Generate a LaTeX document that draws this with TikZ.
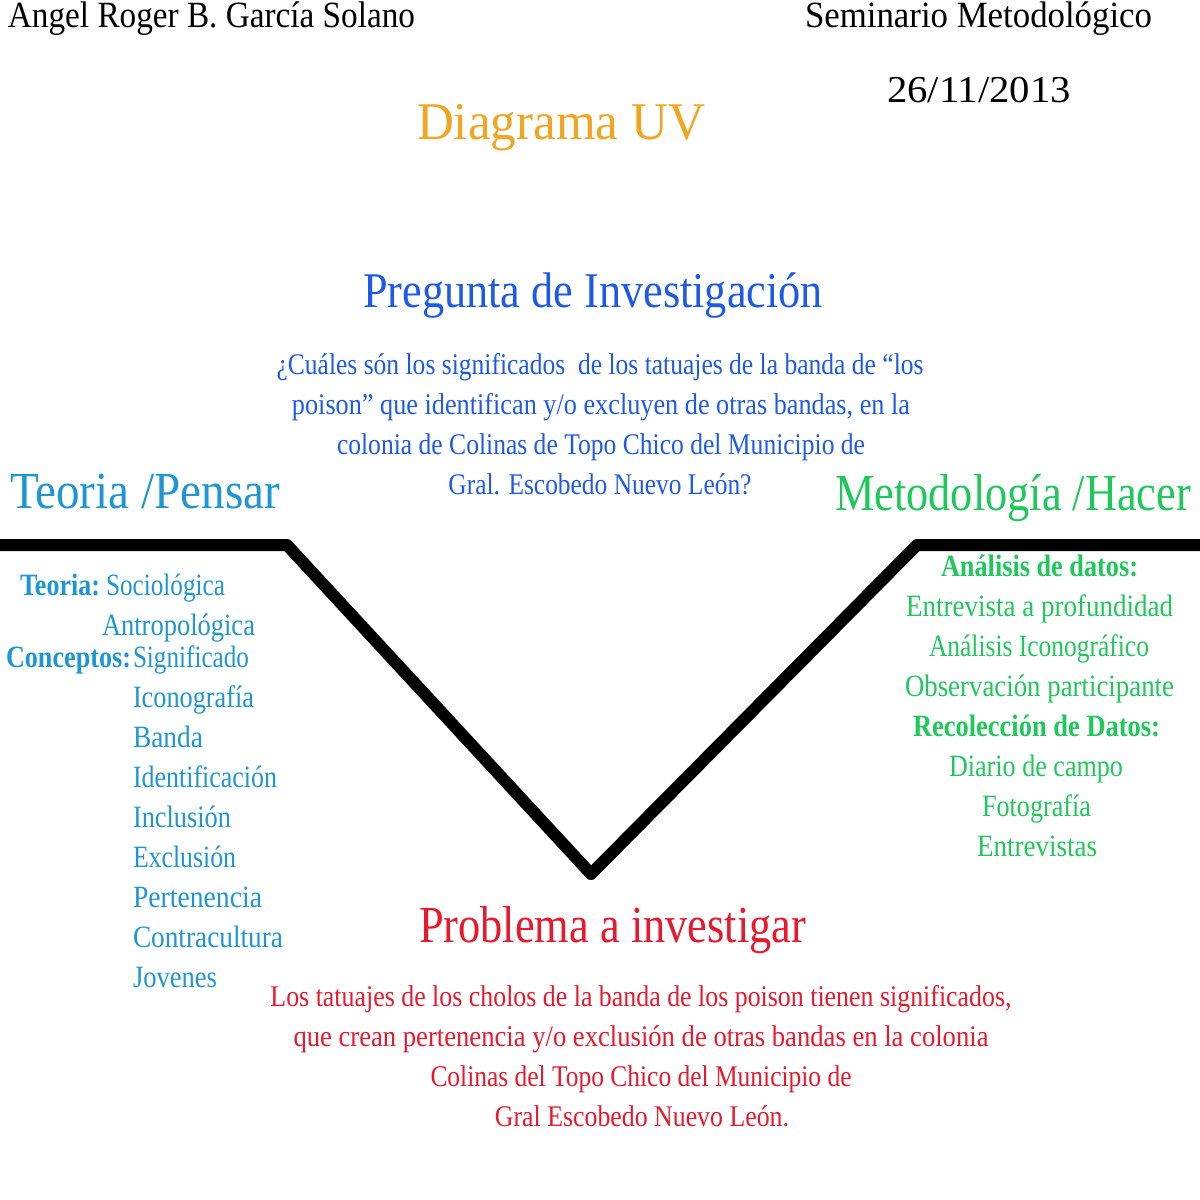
\documentclass[tikz,border=0pt]{standalone}
\usepackage{fontspec}
\usepackage{graphicx}
\setmainfont{Liberation Serif}
\definecolor{uvorange}{RGB}{240,165,35}
\definecolor{uvblue}{RGB}{30,90,230}
\definecolor{uvteal}{RGB}{30,150,210}
\definecolor{uvgreen}{RGB}{30,200,90}
\definecolor{uvred}{RGB}{232,25,45}
\newcommand{\fitw}[2]{\resizebox{#1pt}{\height}{#2}}
\tikzset{
  txt/.style={inner sep=0pt, outer sep=0pt, anchor=base west},
  ctxt/.style={inner sep=0pt, outer sep=0pt, anchor=base},
  hdrfont/.style={font=\fontsize{37}{44}\selectfont, text=black},
  bigfont/.style={font=\fontsize{52}{60}\selectfont},
  smallfont/.style={font=\fontsize{31}{36}\selectfont},
  boldsmall/.style={font=\fontsize{31}{36}\selectfont\bfseries},
  parafont/.style={font=\fontsize{30}{36}\selectfont},
  vline/.style={line width=12pt, line join=round, draw=black}
}
\begin{document}
\begin{tikzpicture}[x=1pt,y=-1pt]
\useasboundingbox[fill=white] (0,0) rectangle (1200,1200);

% header
\node[txt,hdrfont] (author) at (8,27) {\fitw{407}{Angel Roger B. García Solano}};
\node[txt,hdrfont] (seminar) at (805,27) {\fitw{347}{Seminario Metodológico}};
\node[txt,font=\fontsize{38}{44}\selectfont] (date) at (887,102) {\fitw{184}{26/11/2013}};

% title
\node[txt,font=\fontsize{53}{60}\selectfont,text=uvorange] (title) at (417,139) {\fitw{288}{Diagrama UV}};

% research question
\node[txt,font=\fontsize{50}{58}\selectfont,text=uvblue] (pregunta) at (363,307) {\fitw{460}{Pregunta de Investigación}};
\node[ctxt,parafont,text=uvblue] (q1) at (600,374) {\fitw{647}{¿Cuáles són los significados\ \ de los tatuajes de la banda de “los}};
\node[ctxt,parafont,text=uvblue] (q2) at (601,414) {\fitw{618}{poison” que identifican y/o excluyen de otras bandas, en la}};
\node[ctxt,parafont,text=uvblue] (q3) at (601,454) {\fitw{528}{colonia de Colinas de Topo Chico del Municipio de}};
\node[ctxt,parafont,text=uvblue] (q4) at (600,494) {\fitw{303}{Gral. Escobedo Nuevo León?}};

% side headings
\node[txt,bigfont,text=uvteal] (teoria) at (10,508) {\fitw{270}{Teoria /Pensar}};
\node[txt,bigfont,text=uvgreen] (metodo) at (835,510) {\fitw{356}{Metodología /Hacer}};

% V line
\coordinate (l0) at (0,545);
\coordinate (l1) at (287,545);
\coordinate (vb) at (591,874);
\coordinate (r1) at (917,545);
\coordinate (r0) at (1200,545);
\draw[vline] (l0) -- (l1) -- (vb) -- (r1) -- (r0);

% left list
\node[txt,boldsmall,text=uvteal] (teorialbl) at (20,595) {\fitw{80}{Teoria:}};
\node[txt,smallfont,text=uvteal] (socio) at (106,595) {\fitw{119}{Sociológica}};
\node[txt,smallfont,text=uvteal] (antro) at (102,635) {\fitw{153}{Antropológica}};
\node[txt,boldsmall,text=uvteal] (conclbl) at (6,667) {\fitw{125}{Conceptos:}};
\node[txt,smallfont,text=uvteal] (signif) at (133,667) {\fitw{116}{Significado}};
\node[txt,smallfont,text=uvteal] (icono) at (133,707) {\fitw{121}{Iconografía}};
\node[txt,smallfont,text=uvteal] (banda) at (133,747) {\fitw{70}{Banda}};
\node[txt,smallfont,text=uvteal] (ident) at (133,787) {\fitw{144}{Identificación}};
\node[txt,smallfont,text=uvteal] (inclu) at (133,827) {\fitw{98}{Inclusión}};
\node[txt,smallfont,text=uvteal] (exclu) at (133,867) {\fitw{103}{Exclusión}};
\node[txt,smallfont,text=uvteal] (perten) at (133,907) {\fitw{129}{Pertenencia}};
\node[txt,smallfont,text=uvteal] (contra) at (133,947) {\fitw{150}{Contracultura}};
\node[txt,smallfont,text=uvteal] (jov) at (133,987) {\fitw{84}{Jovenes}};

% right list
\node[txt,boldsmall,text=uvgreen] (analbl) at (941,576) {\fitw{197}{Análisis de datos:}};
\node[txt,smallfont,text=uvgreen] (entprof) at (906,616) {\fitw{267}{Entrevista a profundidad}};
\node[txt,smallfont,text=uvgreen] (anaico) at (929,656) {\fitw{220}{Análisis Iconográfico}};
\node[txt,smallfont,text=uvgreen] (observ) at (905,696) {\fitw{269}{Observación participante}};
\node[txt,boldsmall,text=uvgreen] (recolbl) at (913,736) {\fitw{247}{Recolección de Datos:}};
\node[txt,smallfont,text=uvgreen] (diario) at (949,776) {\fitw{174}{Diario de campo}};
\node[txt,smallfont,text=uvgreen] (foto) at (982,816) {\fitw{109}{Fotografía}};
\node[txt,smallfont,text=uvgreen] (entrev) at (977,856) {\fitw{120}{Entrevistas}};

% problem
\node[txt,bigfont,text=uvred] (problema) at (419,942) {\fitw{387}{Problema a investigar}};
\node[ctxt,parafont,text=uvred] (p1) at (641,1006) {\fitw{741}{Los tatuajes de los cholos de la banda de los poison tienen significados,}};
\node[ctxt,parafont,text=uvred] (p2) at (641,1046) {\fitw{695}{que crean pertenencia y/o exclusión de otras bandas en la colonia}};
\node[ctxt,parafont,text=uvred] (p3) at (641,1086) {\fitw{421}{Colinas del Topo Chico del Municipio de}};
\node[ctxt,parafont,text=uvred] (p4) at (642,1126) {\fitw{294}{Gral Escobedo Nuevo León.}};
\end{tikzpicture}
\end{document}
